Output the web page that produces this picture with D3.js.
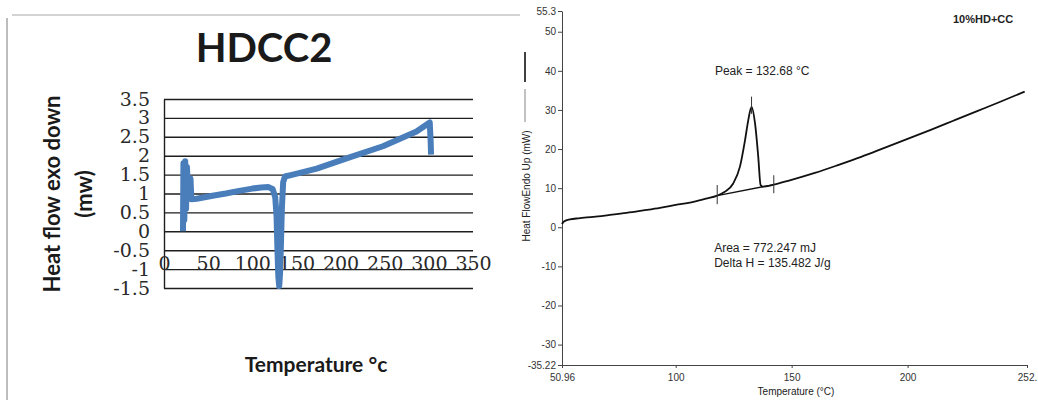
<!DOCTYPE html>
<html>
<head>
<meta charset="utf-8">
<script src="https://cdn.jsdelivr.net/npm/d3@7"></script>
<style>
  body { margin: 0; background: #fff; }
  svg { display: block; background: #fff; }
  .left-tick text { font-family: 'DejaVu Serif', serif; font-size: 19px; fill: #2a2a2a; }
  .left-title { font-family: Lato, 'Open Sans', sans-serif; font-weight: bold; fill: #1a1a1a; }
  .right-axis text { font-family: 'Liberation Sans', Arial, sans-serif; font-size: 10px; fill: #333; }
  .right-label { font-family: 'Liberation Sans', Arial, sans-serif; fill: #222; }
</style>
</head>
<body>
<svg width="1038" height="400"></svg>
<script>
// **** data: left chart (HDCC2) ****
var tempL = [21.5, 22, 23, 24, 25, 26, 27.5, 30, 31, 37, 55, 70, 85, 100, 110, 118, 123,
             126, 127.5, 128.5, 129.5, 130.5, 131.5, 132.5, 133.5, 135, 137, 146,
             173, 211, 248, 286, 301, 302, 302.5];
var flowL = [0.0, 1.8, 0.3, 1.85, 0.6, 1.7, 0.9, 1.4, 0.85, 0.86, 0.94, 1.0, 1.07, 1.13, 1.16, 1.17, 1.12,
             0.9, 0.4, -0.5, -1.2, -1.45, -1.1, -0.3, 0.6, 1.3, 1.45, 1.5,
             1.66, 1.96, 2.25, 2.64, 2.88, 2.4, 2.03];
var xTicksL = [0, 50, 100, 150, 200, 250, 300, 350];
var yTicksL = [-1.5, -1, -0.5, 0, 0.5, 1, 1.5, 2, 2.5, 3, 3.5];

// **** data: right chart (10%HD+CC) ****
var tempR = [50.96, 51.5, 52.5, 54.4, 58, 64.5, 71, 78.8, 86, 93.2, 100, 107.6, 113, 117.9, 121,
             124.8, 127.7, 129.9, 131.3, 132.7, 134.2, 135.6, 136.6, 137.5, 142.3, 149.2,
             160, 170, 180, 190, 200, 210, 220, 230, 240, 250.5];
var flowR = [0.8, 1.3, 1.7, 2.0, 2.3, 2.65, 3.1, 3.67, 4.3, 4.96, 5.7, 6.5, 7.3, 8.1, 9.0,
             11.2, 15.5, 22.3, 27.4, 30.8, 26.6, 18.0, 10.8, 10.4, 10.9, 12.0,
             13.9, 15.9, 18.0, 20.3, 22.6, 24.9, 27.3, 29.7, 32.1, 34.7];
var baseLineR = [[117.9, 8.1], [142.3, 10.9]];
var markersR = [[117.9, 5.9, 10.8], [142.3, 8.7, 13.3], [132.7, 29.0, 33.4]];
var xTicksR = [50.96, 100, 150, 200, 251.5];
var xTickLabelsR = ['50.96', '100', '150', '200', '252.'];
var yTicksR = [-35.22, -30, -20, -10, 0, 10, 20, 30, 40, 50, 55.3];
var yTickLabelsR = ['-35.22', '-30', '-20', '-10', '0', '10', '20', '30', '40', '50', '55.3'];
var notesR = [
    { t: 116.9, v: 38.9, text: 'Peak = 132.68 °C' },
    { t: 116.6, v: -6.3, text: 'Area = 772.247 mJ' },
    { t: 116.6, v: -10.2, text: 'Delta H = 135.482 J/g' }
];

var svg = d3.select('svg');

// ---------- left panel ----------
// frame of the pasted spreadsheet chart
svg.append('line').attr('x1', 12).attr('y1', 15).attr('x2', 520).attr('y2', 15)
    .style('stroke', '#c4c4c4').style('stroke-width', 1.5);
svg.append('line').attr('x1', 7).attr('y1', 18).attr('x2', 7).attr('y2', 400)
    .style('stroke', '#bdbdbd').style('stroke-width', 2);

var xL = d3.scaleLinear().domain([0, 350]).range([164, 473]);
var yL = d3.scaleLinear().domain([-1.5, 3.5]).range([288, 99]);

var plainNum = function (d) { return String(d); };

var gy = svg.append('g').attr('class', 'left-tick')
    .attr('transform', 'translate(164,0)')
    .call(d3.axisLeft(yL).tickValues(yTicksL).tickSize(-(473 - 164)).tickSizeOuter(0)
        .tickPadding(14).tickFormat(plainNum));
gy.selectAll('line').style('stroke', '#1e1e1e').style('stroke-width', 1.4);
gy.select('.domain').style('stroke', '#1e1e1e').style('stroke-width', 1.4);

var gx = svg.append('g').attr('class', 'left-tick')
    .attr('transform', 'translate(0,' + yL(-0.5) + ')')
    .call(d3.axisBottom(xL).tickValues(xTicksL).tickSize(0).tickPadding(6).tickFormat(plainNum));
gx.select('.domain').remove();

var lineL = d3.line()
    .x(function (d, i) { return xL(tempL[i]); })
    .y(function (d, i) { return yL(flowL[i]); });

svg.append('path')
    .datum(flowL)
    .attr('d', lineL)
    .style('fill', 'none')
    .style('stroke', '#4a7ebb')
    .style('stroke-width', 6)
    .style('stroke-linejoin', 'round');

svg.append('text').attr('class', 'left-title')
    .attr('x', 264).attr('y', 62).attr('text-anchor', 'middle')
    .style('font-size', '40px').text('HDCC2');

svg.append('text').attr('class', 'left-title')
    .attr('x', 316).attr('y', 372).attr('text-anchor', 'middle')
    .style('font-size', '21px').text('Temperature °c');

svg.append('text').attr('class', 'left-title')
    .attr('transform', 'translate(60,194) rotate(-90)').attr('text-anchor', 'middle')
    .style('font-size', '22px').text('Heat flow exo down');

svg.append('text').attr('class', 'left-title')
    .attr('transform', 'translate(92,194) rotate(-90)').attr('text-anchor', 'middle')
    .style('font-size', '22px').text('(mw)');

// ---------- right panel ----------
var xR = d3.scaleLinear().domain([50.96, 251.5]).range([562, 1027]);
var yR = d3.scaleLinear().domain([-35.22, 55.3]).range([365, 11]);

var ay = svg.append('g').attr('class', 'right-axis')
    .attr('transform', 'translate(562,0)')
    .call(d3.axisLeft(yR).tickValues(yTicksR).tickSize(4).tickSizeOuter(0).tickPadding(2)
        .tickFormat(function (d, i) { return yTickLabelsR[i]; }));
ay.selectAll('line, .domain').style('stroke', '#444');

var ax = svg.append('g').attr('class', 'right-axis')
    .attr('transform', 'translate(0,365)')
    .call(d3.axisBottom(xR).tickValues(xTicksR).tickSize(3).tickSizeOuter(0).tickPadding(6)
        .tickFormat(function (d, i) { return xTickLabelsR[i]; }));
ax.selectAll('line, .domain').style('stroke', '#444');

var lineR = d3.line()
    .x(function (d, i) { return xR(tempR[i]); })
    .y(function (d, i) { return yR(flowR[i]); })
    .curve(d3.curveMonotoneX);

svg.append('path')
    .datum(flowR)
    .attr('d', lineR)
    .style('fill', 'none')
    .style('stroke', '#111')
    .style('stroke-width', 1.8);

svg.append('path')
    .datum(baseLineR)
    .attr('d', d3.line().x(function (d) { return xR(d[0]); }).y(function (d) { return yR(d[1]); }))
    .style('fill', 'none')
    .style('stroke', '#111')
    .style('stroke-width', 1.3);

svg.selectAll('line.marker')
    .data(markersR).enter()
    .append('line')
    .attr('class', 'marker')
    .attr('x1', function (d) { return xR(d[0]); })
    .attr('x2', function (d) { return xR(d[0]); })
    .attr('y1', function (d) { return yR(d[1]); })
    .attr('y2', function (d) { return yR(d[2]); })
    .style('stroke', '#333')
    .style('stroke-width', 1);

svg.selectAll('text.note')
    .data(notesR).enter()
    .append('text')
    .attr('class', 'note right-label')
    .attr('x', function (d) { return xR(d.t); })
    .attr('y', function (d) { return yR(d.v); })
    .style('font-size', '12px')
    .text(function (d) { return d.text; });

svg.append('text').attr('class', 'right-label')
    .attr('x', 796).attr('y', 395).attr('text-anchor', 'middle')
    .style('font-size', '10px').text('Temperature (°C)');

svg.append('text').attr('class', 'right-label')
    .attr('transform', 'translate(530,186) rotate(-90)').attr('text-anchor', 'middle')
    .style('font-size', '10px').text('Heat FlowEndo Up (mW)');

// small line markers next to the y title
svg.append('line').attr('x1', 525).attr('y1', 52).attr('x2', 525).attr('y2', 82)
    .style('stroke', '#111').style('stroke-width', 1.6);
svg.append('line').attr('x1', 525).attr('y1', 89).attr('x2', 525).attr('y2', 122)
    .style('stroke', '#999').style('stroke-width', 1.2);

svg.append('text').attr('class', 'right-label')
    .attr('x', 953).attr('y', 23)
    .style('font-size', '11px').style('font-weight', 'bold')
    .text('10%HD+CC');
</script>
</body>
</html>
